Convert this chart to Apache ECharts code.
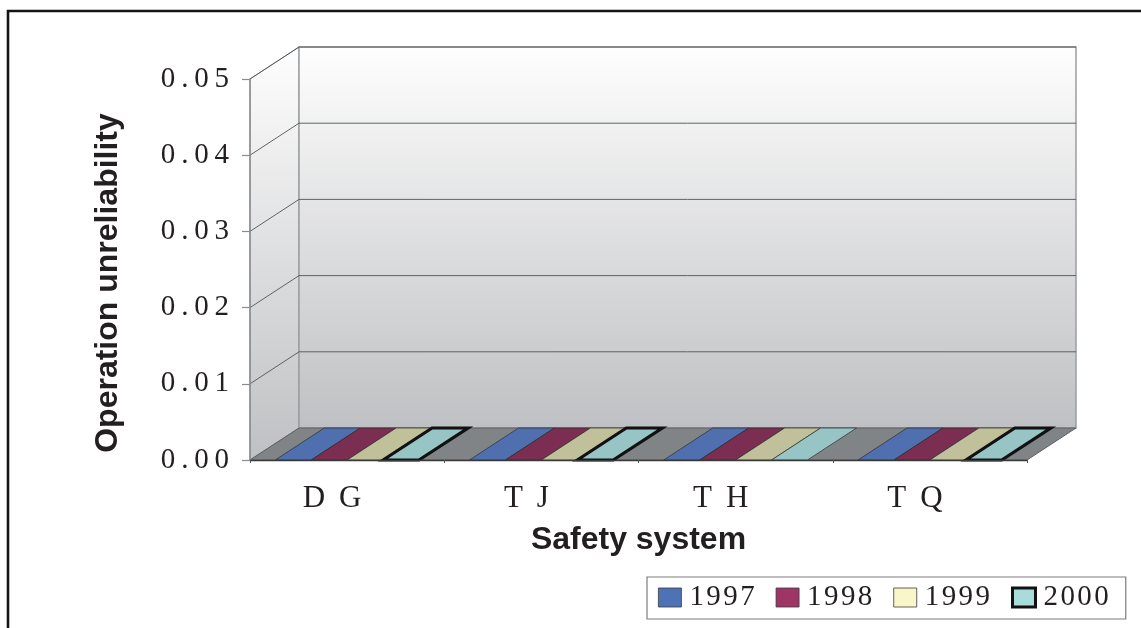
<!DOCTYPE html>
<html>
<head>
<meta charset="utf-8">
<script src="https://cdn.jsdelivr.net/npm/echarts@6/dist/echarts.min.js"></script>
<style>
  html, body { margin: 0; padding: 0; background: #ffffff; }
  #chart { width: 1141px; height: 628px; }
</style>
</head>
<body>
<div id="chart"></div>
<script>
// Safety systems and yearly operation unreliability
const systems = ['DG', 'TJ', 'TH', 'TQ'];
const years = ['1997', '1998', '1999', '2000'];
const v1997 = [0, 0, 0, 0];
const v1998 = [0, 0, 0, 0];
const v1999 = [0, 0, 0, 0];
const v2000 = [0, 0, 0, 0];
const yTicks = [0, 0.01, 0.02, 0.03, 0.04, 0.05];

const yearValues = [v1997, v1998, v1999, v2000];

// look of the pseudo-3D box
const DX = 49, DY = -32;                 // depth offset of the back wall
const faceColors = ['#4f6fae', '#7b2d52', '#c0c19a', '#97c4c4'];
const legendColors = ['#4d72b5', '#9e3567', '#f9f7c9', '#a9dbdb'];
const SERIF = 'Liberation Serif';
const SANS = 'Liberation Sans';

// spaced-out serif labels
const hair = s => String(s).split('').join('\u200A');
const thin = s => String(s).split('').join('\u2009');
const wide = s => String(s).split('').join(' \u2009');

function shade(hex, f) {
  const n = parseInt(hex.slice(1), 16);
  const r = Math.round(((n >> 16) & 255) * f), g = Math.round(((n >> 8) & 255) * f), b = Math.round((n & 255) * f);
  return 'rgb(' + r + ',' + g + ',' + b + ')';
}

// walls, floor and gridlines of the 3D box
function renderWalls(params, api) {
  const cs = params.coordSys;
  const x = cs.x, w = cs.width;
  const yAt = v => api.coord([0, v])[1];
  const yTop = yAt(yTicks[yTicks.length - 1]);
  const yBot = yAt(0);
  const wallFill = () => new echarts.graphic.LinearGradient(0, 0, 0, 1, [
    { offset: 0, color: '#fefefe' },
    { offset: 1, color: '#bfc0c3' }
  ]);
  const children = [];
  // side wall
  children.push({
    type: 'polygon',
    shape: { points: [[x, yTop], [x + DX, yTop + DY], [x + DX, yBot + DY], [x, yBot]] },
    style: { fill: wallFill(), stroke: '#8a8d90', lineWidth: 1 }
  });
  // back wall
  children.push({
    type: 'rect',
    shape: { x: x + DX, y: yTop + DY, width: w, height: yBot - yTop },
    style: { fill: wallFill(), stroke: '#9a9da1', lineWidth: 1.5 }
  });
  // gridlines across both walls
  yTicks.forEach(v => {
    if (v === 0) return;
    const y = yAt(v);
    children.push({
      type: 'polyline',
      shape: { points: [[x, y], [x + DX, y + DY], [x + w + DX, y + DY]] },
      style: { fill: null, stroke: '#505355', lineWidth: 0.9 }
    });
  });
  // floor
  children.push({
    type: 'polygon',
    shape: { points: [[x, yBot], [x + DX, yBot + DY], [x + w + DX, yBot + DY], [x + w, yBot]] },
    style: { fill: '#808486', stroke: '#5e6163', lineWidth: 1 }
  });
  return { type: 'group', children: children };
}

// a 3D column: front face, right side and top face
function makeBarRenderer(k, unframed) {
  return function (params, api) {
    const c = api.value(0), v = api.value(1);
    const band = api.size([1, 0])[0];
    const bw = band * 0.185;
    const cx = api.coord([c, 0])[0];
    const x0 = cx - 2 * bw + k * bw, x1 = x0 + bw;
    const yb = api.coord([c, 0])[1];
    const yt = api.coord([c, v])[1];
    const color = faceColors[k];
    const framed = k === 3 && !unframed.has(systems[c]);
    const edge = framed ? { stroke: '#111', lineWidth: 3.2, lineJoin: 'miter' }
                        : { stroke: '#2d2d2d', lineWidth: 0.7 };
    const children = [];
    if (yb - yt > 0.5) {
      children.push({ type: 'rect', shape: { x: x0, y: yt, width: bw, height: yb - yt },
        style: Object.assign({ fill: shade(color, 1.05) }, edge) });
      children.push({ type: 'polygon',
        shape: { points: [[x1, yt], [x1 + DX, yt + DY], [x1 + DX, yb + DY], [x1, yb]] },
        style: Object.assign({ fill: shade(color, 0.75) }, edge) });
    }
    children.push({ type: 'polygon',
      shape: { points: [[x0, yt], [x0 + DX, yt + DY], [x1 + DX, yt + DY], [x1, yt]] },
      style: Object.assign({ fill: color }, edge) });
    return { type: 'group', children: children };
  };
}

const unframed2000 = new Set(['TH']);

const series = [{
  type: 'custom',
  name: '__walls',
  data: [[0, 0]],
  renderItem: renderWalls,
  silent: true,
  z: 1
}].concat(years.map((yr, k) => ({
  type: 'custom',
  name: yr,
  color: faceColors[k],
  data: yearValues[k].map((v, i) => [i, v]),
  renderItem: makeBarRenderer(k, unframed2000),
  z: 3
})));

const chart = echarts.init(document.getElementById('chart'), null, { renderer: 'canvas' });
chart.setOption({
  animation: false,
  backgroundColor: '#ffffff',
  graphic: [{
    type: 'rect',
    z: -10,
    shape: { x: 8, y: 11, width: 1300, height: 800 },
    style: { fill: null, stroke: '#141414', lineWidth: 2.6 }
  }],
  grid: { left: 250, right: 114, top: 79, bottom: 168 },
  legend: {
    orient: 'horizontal',
    left: 647, top: 577,
    width: 490,
    padding: [6, 17, 7, 11],
    backgroundColor: '#ffffff',
    borderColor: '#7d7d7d',
    borderWidth: 1.2,
    borderRadius: 0,
    icon: 'rect',
    itemWidth: 23, itemHeight: 19,
    itemGap: 21,
    selectedMode: false,
    formatter: hair,
    textStyle: { fontFamily: SERIF, fontSize: 29, color: '#231f20', padding: [0, 0, 0, 3] },
    data: years.map((yr, k) => ({
      name: yr,
      itemStyle: k === 3
        ? { color: legendColors[k], borderColor: '#111', borderWidth: 3 }
        : { color: legendColors[k], borderColor: '#3a3a3a', borderWidth: 0.8 }
    }))
  },
  xAxis: {
    type: 'category',
    data: systems,
    z: 10,
    axisLine: { show: true, lineStyle: { color: '#3a3a3a', width: 1.3 } },
    axisTick: { show: true, length: 3, lineStyle: { color: '#555' } },
    axisLabel: {
      formatter: wide,
      fontFamily: SERIF, fontSize: 31, color: '#231f20',
      margin: 23, padding: [0, 30, 0, 0]
    },
    name: 'Safety system',
    nameLocation: 'middle',
    nameGap: 64,
    nameTextStyle: { fontFamily: SANS, fontWeight: 'bold', fontSize: 32, color: '#231f20' }
  },
  yAxis: {
    type: 'value',
    min: 0, max: 0.05, interval: 0.01,
    z: 10,
    axisLine: { show: true, lineStyle: { color: '#8a8d90', width: 1.5 } },
    axisTick: { show: true, length: 8, lineStyle: { color: '#8a8d90', width: 1.2 } },
    splitLine: { show: false },
    axisLabel: {
      formatter: v => thin(v.toFixed(2)),
      fontFamily: SERIF, fontSize: 29, color: '#231f20', margin: 21
    },
    name: 'Operation unreliability',
    nameLocation: 'middle',
    nameGap: 126,
    nameTextStyle: { fontFamily: SANS, fontWeight: 'bold', fontSize: 32, color: '#231f20', padding: [0, 27, 0, 0] }
  },
  series: series
});
</script>
</body>
</html>
